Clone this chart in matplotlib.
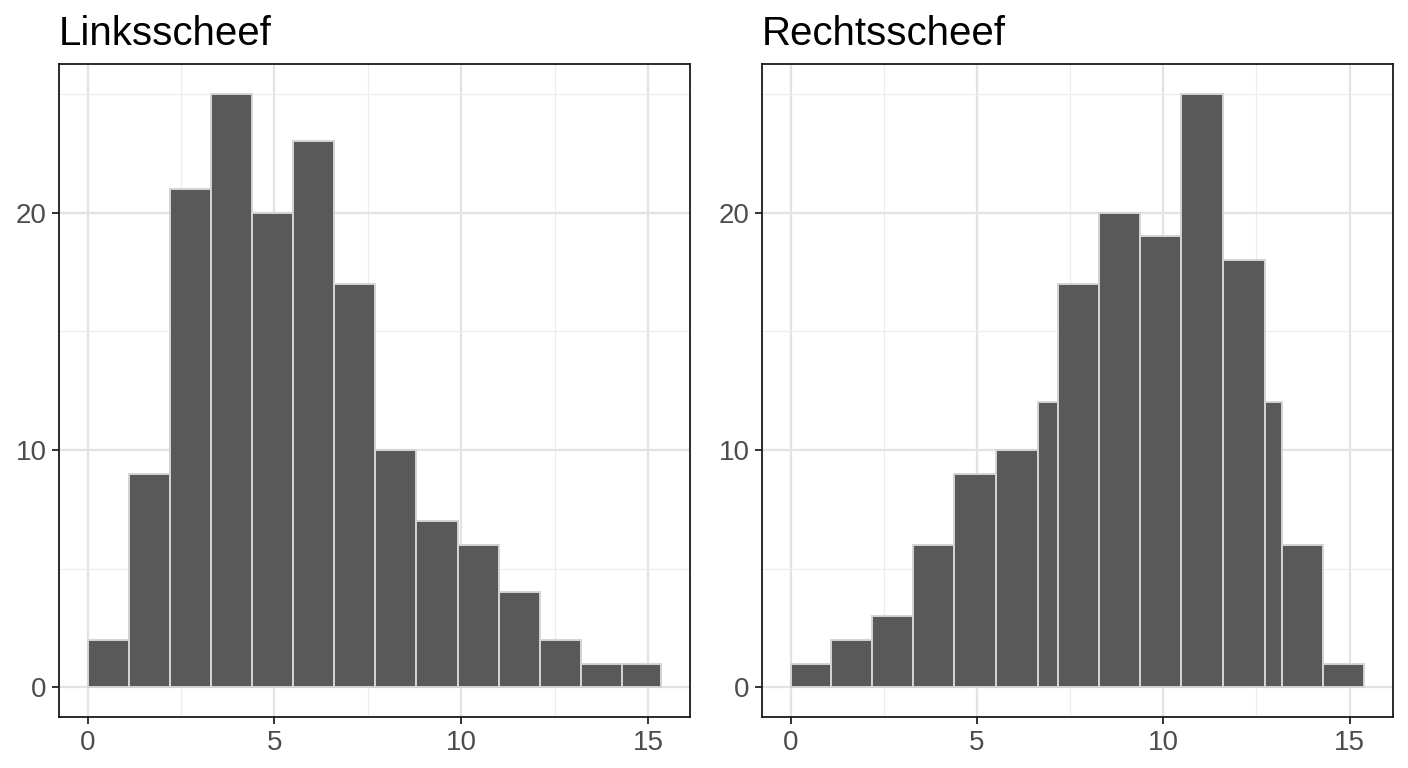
import numpy as np
import matplotlib
matplotlib.use("Agg")
import matplotlib.pyplot as plt

plt.rcParams['font.family'] = ['Liberation Sans', 'DejaVu Sans']

# histogram bins
left_edges = [0, 1.1, 2.2, 3.3, 4.4, 5.5, 6.6, 7.7, 8.8, 9.9, 11.0, 12.1, 13.2, 14.3, 15.35]
left_counts = [2, 9, 21, 25, 20, 23, 17, 10, 7, 6, 4, 2, 1, 1]

right_edges = [0, 1.08, 2.18, 3.29, 4.39, 5.5, 6.63, 7.17, 8.27, 9.38, 10.48, 11.59,
               12.72, 13.18, 14.28, 15.39]
right_counts = [1, 2, 3, 6, 9, 10, 12, 17, 20, 19, 25, 18, 12, 6, 1]

titles = ["Linksscheef", "Rechtsscheef"]
x_ticks = [0, 5, 10, 15]
y_ticks = [0, 10, 20]

fig = plt.figure(figsize=(14.08, 7.68), dpi=100)
ax_l = fig.add_axes([0.0419, 0.0664, 0.448, 0.850])
ax_r = fig.add_axes([0.5412, 0.0664, 0.448, 0.850])


def draw_hist(ax, edges, counts, title):
    edges = np.array(edges)
    ax.bar(edges[:-1], counts, width=np.diff(edges), align='edge',
           color='#595959', edgecolor='#D4D4D4', linewidth=1.4, zorder=3)
    lo, hi = edges[0], edges[-1]
    pad = (hi - lo) * 0.05
    ax.set_xlim(lo - pad, hi + pad)
    ymax = max(counts)
    ax.set_ylim(-ymax * 0.05, ymax * 1.05)

    ax.set_xticks(x_ticks)
    ax.set_yticks(y_ticks)
    ax.set_xticks([2.5, 7.5, 12.5], minor=True)
    ax.set_yticks([5, 15, 25], minor=True)
    ax.grid(True, which='major', color='#E3E3E3', linewidth=1.6, zorder=0)
    ax.grid(True, which='minor', color='#EDEDED', linewidth=0.9, zorder=0)
    ax.set_axisbelow(True)

    ax.tick_params(which='major', length=5, width=1.4, color='#333333',
                   labelsize=20, labelcolor='#4D4D4D', pad=4)
    ax.tick_params(which='minor', length=0)
    for s in ax.spines.values():
        s.set_color('#1A1A1A')
        s.set_linewidth(1.3)

    ax.set_title(title, loc='left', fontsize=29, pad=14, color='black')


draw_hist(ax_l, left_edges, left_counts, titles[0])
draw_hist(ax_r, right_edges, right_counts, titles[1])

fig.savefig("out.png", dpi=100, facecolor='white')
